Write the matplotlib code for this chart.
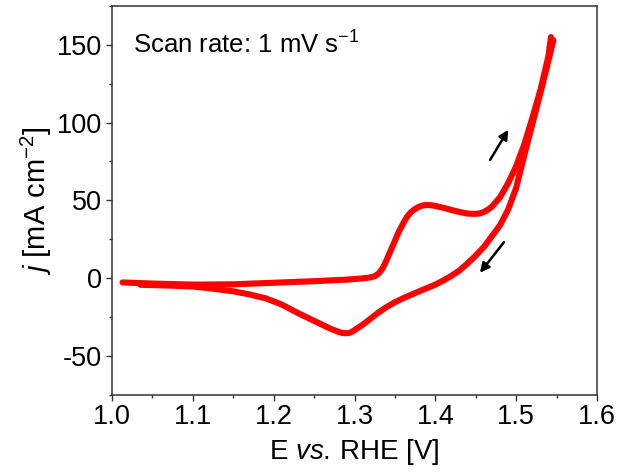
import matplotlib
matplotlib.use("Agg")
import matplotlib.pyplot as plt
from matplotlib.ticker import MultipleLocator

plt.rcParams['font.family'] = ['Liberation Sans', 'DejaVu Sans']
plt.rcParams['mathtext.fontset'] = 'custom'
plt.rcParams['mathtext.rm'] = 'Liberation Sans'
plt.rcParams['mathtext.it'] = 'Liberation Sans:italic'
plt.rcParams['mathtext.bf'] = 'Liberation Sans:bold'

# Anodic (forward) scan
E_fwd = [1.013, 1.05, 1.10, 1.15, 1.20, 1.25, 1.29, 1.31, 1.32, 1.325, 1.33, 1.335,
         1.34, 1.345, 1.35, 1.355, 1.36, 1.365, 1.37, 1.375, 1.38, 1.385, 1.39, 1.395,
         1.40, 1.41, 1.42, 1.43, 1.44, 1.45, 1.455, 1.46, 1.465, 1.47, 1.48, 1.49,
         1.50, 1.51, 1.52, 1.53, 1.54, 1.543]
j_fwd = [-2.8, -3.5, -4.2, -4.0, -3.0, -2.0, -1.0, -0.2, 0.5, 1.2, 3.0, 6.5,
         12, 18, 24, 30, 35, 39.5, 42.5, 44.5, 46, 46.8, 47, 46.8,
         46.4, 45.2, 43.8, 42.5, 41.5, 41.3, 41.6, 42.5, 44, 46, 52, 61,
         72, 86, 103, 121, 143, 155]

# Cathodic (reverse) scan
E_rev = [1.546, 1.54, 1.53, 1.52, 1.51, 1.50, 1.49, 1.48, 1.47, 1.46, 1.45, 1.44,
         1.43, 1.42, 1.41, 1.40, 1.38, 1.36, 1.35, 1.34, 1.33, 1.32, 1.31, 1.30,
         1.295, 1.29, 1.285, 1.28, 1.27, 1.26, 1.25, 1.23, 1.21, 1.19, 1.17, 1.15,
         1.12, 1.10, 1.07, 1.035]
j_rev = [153, 140, 119, 99, 79, 58, 44, 34, 27, 20, 14.5, 9.5,
         5, 1.5, -1.5, -4.2, -8.5, -13, -15.5, -18.5, -22, -26, -30, -33.5,
         -35, -35.5, -35.3, -34.5, -32.5, -30, -27.5, -22.5, -17, -13, -10.5, -8.5,
         -6.5, -5.4, -4.8, -4.3]

fig = plt.figure(figsize=(6.21, 4.76), dpi=100)
ax = fig.add_axes([0.1804, 0.1708, 0.7810, 0.8166])

red = '#ff0000'
ax.plot(E_fwd, j_fwd, color=red, lw=4.4, solid_capstyle='round', solid_joinstyle='round')
ax.plot(E_rev, j_rev, color=red, lw=4.4, solid_capstyle='round', solid_joinstyle='round')

ax.annotate('', xy=(1.492, 97), xytext=(1.466, 74.5),
            arrowprops=dict(arrowstyle='-|>', color='black', lw=1.8, mutation_scale=14))
ax.annotate('', xy=(1.453, 2.0), xytext=(1.487, 24.5),
            arrowprops=dict(arrowstyle='-|>', color='black', lw=1.8, mutation_scale=14))

ax.set_xlim(1.0, 1.6)
ax.set_ylim(-75, 175)
ax.xaxis.set_minor_locator(MultipleLocator(0.05))
ax.yaxis.set_minor_locator(MultipleLocator(25))
ax.set_xticks([1.0, 1.1, 1.2, 1.3, 1.4, 1.5, 1.6])
ax.set_xticklabels(['1.0', '1.1', '1.2', '1.3', '1.4', '1.5', '1.6'])
ax.set_yticks([-50, 0, 50, 100, 150])
ax.set_yticklabels(['-50', '0', '50', '100', '150'])

ax.tick_params(which='major', direction='out', length=4, width=1.0, labelsize=19.5,
               color='#333333', pad=3)
ax.tick_params(which='minor', direction='out', length=2.5, width=1.0, color='#333333')
for s in ax.spines.values():
    s.set_linewidth(1.1)
    s.set_color('#333333')

ax.set_xlabel(r'E $\it{vs.}\,$RHE [V]', fontsize=20, labelpad=5)
ax.set_ylabel(r'$\it{j}$ [mA cm$^{\mathregular{-2}}$]', fontsize=21, labelpad=2)

ax.text(0.043, 0.90, r'Scan rate: 1 mV s$^{\mathregular{-1}}$', transform=ax.transAxes,
        fontsize=18.5, va='center', ha='left')

fig.savefig('out.png', dpi=100)
